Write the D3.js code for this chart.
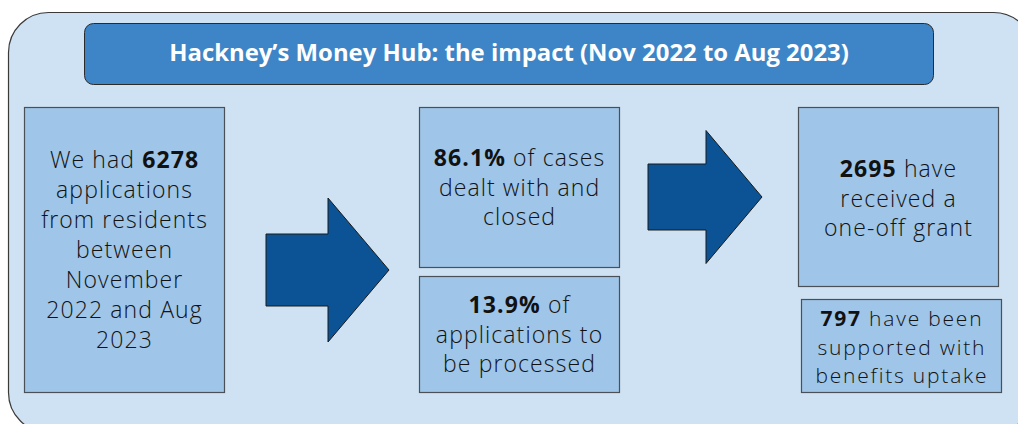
<!DOCTYPE html>
<html>
<head>
<meta charset="utf-8">
<script src="https://cdn.jsdelivr.net/npm/d3@7"></script>
<style>
  html, body { margin: 0; padding: 0; background: #ffffff; }
  svg { display: block; }
  .panel text { font-family: "Open Sans", "Lato", sans-serif; }
</style>
</head>
<body>
<div id="chart"></div>
<script>
  // title
  var title = "Hackney\u2019s Money Hub: the impact (Nov 2022 to Aug 2023)";

  // the headline figures
  var figures = ["6278", "86.1%", "13.9%", "2695", "797"];

  // text of each box, one entry per line; {b} marks where the figure goes
  var boxLines = [
    ["We had {b}", "applications", "from residents", "between", "November", "2022 and Aug", "2023"],
    ["{b} of cases", "dealt with and", "closed"],
    ["{b} of", "applications to", "be processed"],
    ["{b} have", "received a", "one-off grant"],
    ["{b} have been", "supported with", "benefits uptake"]
  ];

  // layout (pixel boxes)
  var boxes = [
    {x: 24,  y: 107, w: 200, h: 285, first: 168, step: 30,   size: 23, ls: 1.1},
    {x: 419, y: 107, w: 200, h: 160, first: 166, step: 29.5, size: 23, ls: 1.1},
    {x: 419, y: 276, w: 200, h: 116, first: 313, step: 29.5, size: 23, ls: 1.1},
    {x: 798, y: 107, w: 200, h: 179, first: 177, step: 29.5, size: 23, ls: 1.1},
    {x: 801, y: 299, w: 200, h: 93,  first: 326, step: 28.5, size: 21, ls: 1.8}
  ];

  var arrows = [
    {x0: 266, x1: 328, x2: 389, cy: 270, shaft: 72, head: 144},
    {x0: 648, x1: 706, x2: 762, cy: 197, shaft: 66, head: 133}
  ];

  var W = 1018, H = 424;

  var svg = d3.select("#chart").append("svg")
    .attr("width", W)
    .attr("height", H)
    .attr("class", "panel");

  // background panel
  svg.append("rect")
    .attr("x", 8.5).attr("y", 12.5)
    .attr("width", 1025).attr("height", 420)
    .attr("rx", 40).attr("ry", 40)
    .attr("fill", "#cfe2f3")
    .attr("stroke", "#3a3a3a")
    .attr("stroke-width", 1.2);

  // title banner
  svg.append("rect")
    .attr("x", 84.5).attr("y", 23.5)
    .attr("width", 849).attr("height", 61)
    .attr("rx", 9).attr("ry", 9)
    .attr("fill", "#3d85c6")
    .attr("stroke", "#2b2b2b")
    .attr("stroke-width", 1);

  var t = svg.append("text")
    .attr("x", 509).attr("y", 61)
    .attr("text-anchor", "middle")
    .attr("fill", "#ffffff")
    .attr("font-weight", 700)
    .attr("font-size", 22)
    .text(title);
  var tw = t.node().getComputedTextLength();
  t.attr("font-size", 22 * 680 / tw);

  // arrows
  var line = d3.line();
  svg.selectAll("path.arrow")
    .data(arrows).enter()
    .append("path")
    .attr("class", "arrow")
    .attr("d", function(a) {
      var s = a.shaft / 2, h = a.head / 2;
      return line([
        [a.x0, a.cy - s], [a.x1, a.cy - s], [a.x1, a.cy - h], [a.x2, a.cy],
        [a.x1, a.cy + h], [a.x1, a.cy + s], [a.x0, a.cy + s]
      ]) + "Z";
    })
    .attr("fill", "#0b5394")
    .attr("stroke", "#1a1a1a")
    .attr("stroke-width", 1);

  // boxes
  var g = svg.selectAll("g.box")
    .data(boxes).enter()
    .append("g")
    .attr("class", "box");

  g.append("rect")
    .attr("x", function(d) { return d.x + 0.5; })
    .attr("y", function(d) { return d.y + 0.5; })
    .attr("width", function(d) { return d.w; })
    .attr("height", function(d) { return d.h; })
    .attr("fill", "#9fc5e8")
    .attr("stroke", "#4a5058")
    .attr("stroke-width", 1.2);

  g.each(function(d, i) {
    var sel = d3.select(this);
    boxLines[i].forEach(function(ln, j) {
      var txt = sel.append("text")
        .attr("x", d.x + d.w / 2 + d.ls / 2)
        .attr("y", d.first + j * d.step)
        .attr("text-anchor", "middle")
        .attr("font-size", d.size)
        .attr("letter-spacing", d.ls)
        .attr("font-weight", 300)
        .attr("fill", "#111");
      var parts = ln.split("{b}");
      if (parts.length > 1) {
        if (parts[0]) txt.append("tspan").text(parts[0]);
        txt.append("tspan").attr("font-weight", 700).text(figures[i]);
        txt.append("tspan").text(parts[1]);
      } else {
        txt.text(ln);
      }
    });
  });
</script>
</body>
</html>
